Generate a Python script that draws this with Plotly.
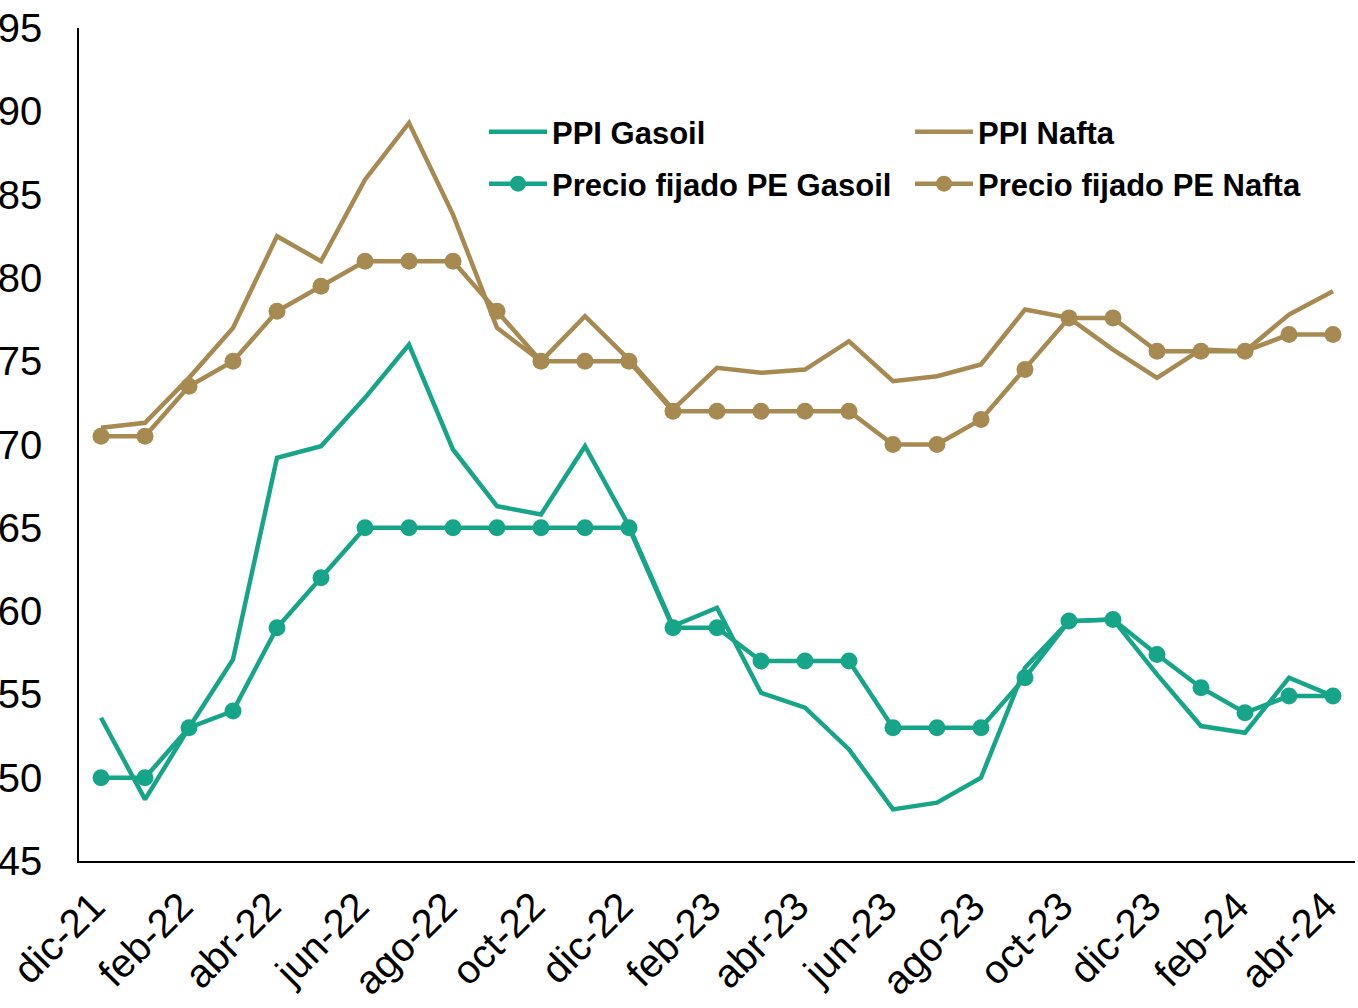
import plotly.graph_objects as go

months = ["dic-21", "ene-22", "feb-22", "mar-22", "abr-22", "may-22", "jun-22", "jul-22",
          "ago-22", "sep-22", "oct-22", "nov-22", "dic-22", "ene-23", "feb-23", "mar-23",
          "abr-23", "may-23", "jun-23", "jul-23", "ago-23", "sep-23", "oct-23", "nov-23",
          "dic-23", "ene-24", "feb-24", "mar-24", "abr-24"]

ppi_gasoil = [53.6, 48.7, 53.0, 57.1, 69.2, 69.9, 72.8, 76.0, 69.7, 66.3, 65.8, 69.9, 65.1,
              59.1, 60.2, 55.1, 54.2, 51.7, 48.1, 48.5, 50.0, 56.6, 59.4, 59.5, 56.2, 53.1,
              52.7, 56.0, 54.9]
pe_gasoil = [50, 50, 53, 54, 59, 62, 65, 65, 65, 65, 65, 65, 65, 59, 59, 57, 57, 57, 53, 53,
             53, 56, 59.4, 59.5, 57.4, 55.4, 53.9, 54.9, 54.9]
ppi_nafta = [71.0, 71.3, 74.0, 77.0, 82.5, 81.0, 85.9, 89.3, 83.8, 77.0, 75.0, 77.7, 75.1,
             72.1, 74.6, 74.3, 74.5, 76.2, 73.8, 74.1, 74.8, 78.1, 77.6, 75.7, 74.0, 75.7,
             75.6, 77.8, 79.2]
pe_nafta = [70.5, 70.5, 73.5, 75, 78, 79.5, 81, 81, 81, 78, 75, 75, 75, 72, 72, 72, 72, 72,
            70, 70, 71.5, 74.5, 77.6, 77.6, 75.6, 75.6, 75.6, 76.6, 76.6]

tick_labels = months[::2]
y_ticks = [45, 50, 55, 60, 65, 70, 75, 80, 85, 90, 95]

TEAL = "#17a589"
GOLD = "#a68a52"
FONT = "Liberation Sans, Arial, sans-serif"
LW = 4.5
MS = 17

fig = go.Figure()
fig.add_trace(go.Scatter(x=months, y=ppi_gasoil, mode="lines", name="PPI Gasoil",
                         line=dict(color=TEAL, width=LW), legend="legend2", showlegend=True))
fig.add_trace(go.Scatter(x=months, y=ppi_nafta, mode="lines", name="PPI Nafta",
                         line=dict(color=GOLD, width=LW), legend="legend3", showlegend=True))
fig.add_trace(go.Scatter(x=months, y=pe_gasoil, mode="lines+markers", name="Precio fijado PE Gasoil",
                         line=dict(color=TEAL, width=LW), marker=dict(size=MS, color=TEAL),
                         legend="legend4", showlegend=True))
fig.add_trace(go.Scatter(x=months, y=pe_nafta, mode="lines+markers", name="Precio fijado PE Nafta",
                         line=dict(color=GOLD, width=LW), marker=dict(size=MS, color=GOLD),
                         legend="legend5", showlegend=True))

leg_common = dict(font=dict(family=FONT, size=31, color="black", weight="bold"),
                  bgcolor="rgba(0,0,0,0)", itemwidth=58, xanchor="left", yanchor="middle",
                  xref="paper", yref="paper", tracegroupgap=0)

def py(pix):
    return (861 - pix) / (861 - 28)

def px(pix):
    return (pix - 79) / (1355 - 79)

fig.update_layout(
    width=1358, height=1008,
    margin=dict(l=79, r=3, t=28, b=147, autoexpand=False),
    showlegend=True,
    plot_bgcolor="white", paper_bgcolor="white",
    font=dict(family=FONT, color="black"),
    legend2=dict(x=px(484), y=py(132), **leg_common),
    legend3=dict(x=px(910), y=py(132), **leg_common),
    legend4=dict(x=px(484), y=py(184), **leg_common),
    legend5=dict(x=px(910), y=py(184), **leg_common),
    xaxis=dict(type="category", categoryorder="array", categoryarray=months,
               range=[-0.5, 28.5], tickmode="array", tickvals=tick_labels, ticktext=tick_labels,
               tickangle=-45, tickfont=dict(family=FONT, size=40, color="black"),
               showgrid=False, zeroline=False, showline=True, linecolor="black", linewidth=1.5,
               ticks="", automargin=False, ticklabelshift=-8, ticklabelstandoff=4),
    yaxis=dict(range=[45, 95], tickmode="array", tickvals=y_ticks,
               tickfont=dict(family=FONT, size=40, color="black"),
               showgrid=False, zeroline=False, showline=True, linecolor="black", linewidth=1.5,
               ticks="", ticklabelstandoff=27, automargin=False),
)

fig.write_html("out.html", config={"displayModeBar": False},
               post_script="document.body.style.margin='0';document.body.style.overflow='hidden';")
